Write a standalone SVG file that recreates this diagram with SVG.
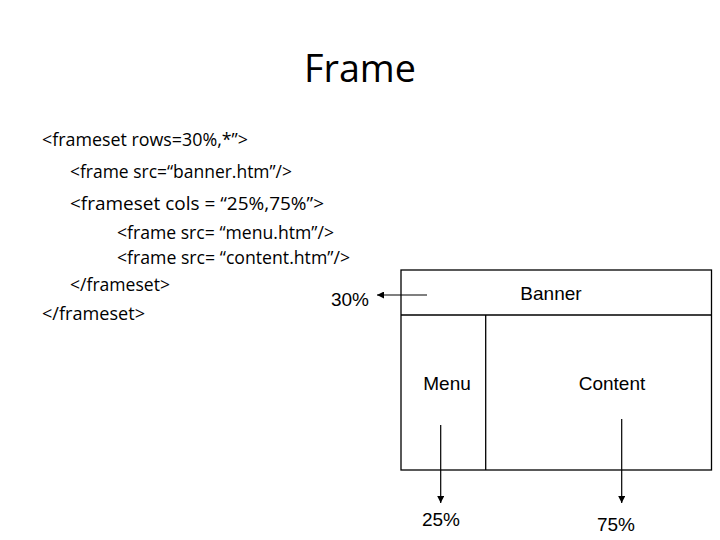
<svg xmlns="http://www.w3.org/2000/svg" width="720" height="540" viewBox="0 0 720 540">
<style>
.code{font-family:"Open Sans","Liberation Sans",sans-serif;font-size:17.5px;fill:#000}
.lbl{font-family:"Liberation Sans",Arial,sans-serif;font-size:19px;fill:#000;text-anchor:middle}
.box{fill:none;stroke:#000;stroke-width:1.3}
.conn{stroke:#000;stroke-width:1.2;fill:none;marker-end:url(#ah)}
</style>
<defs>
<marker id="ah" viewBox="0 0 10 10" refX="10" refY="5" markerWidth="7" markerHeight="7" markerUnits="userSpaceOnUse" orient="auto">
<path d="M0,0 L10,5 L0,10 z" fill="#000"/>
</marker>
</defs>
<rect width="720" height="540" fill="#fff"/>
<text x="360" y="82" text-anchor="middle" font-family="Open Sans,Liberation Sans,sans-serif" font-size="39" textLength="112" lengthAdjust="spacingAndGlyphs">Frame</text>
<g id="code">
<text class="code" x="42" y="146" textLength="206" lengthAdjust="spacingAndGlyphs">&lt;frameset rows=30%,*”&gt;</text>
<text class="code" x="70" y="178" textLength="222" lengthAdjust="spacingAndGlyphs">&lt;frame src=“banner.htm”/&gt;</text>
<text class="code" x="70" y="210" textLength="254" lengthAdjust="spacingAndGlyphs">&lt;frameset cols = “25%,75%”&gt;</text>
<text class="code" x="117" y="239" textLength="217" lengthAdjust="spacingAndGlyphs">&lt;frame src= “menu.htm”/&gt;</text>
<text class="code" x="117" y="264" textLength="233" lengthAdjust="spacingAndGlyphs">&lt;frame src= “content.htm”/&gt;</text>
<text class="code" x="70" y="291" textLength="100" lengthAdjust="spacingAndGlyphs">&lt;/frameset&gt;</text>
<text class="code" x="42" y="320" textLength="103" lengthAdjust="spacingAndGlyphs">&lt;/frameset&gt;</text>
</g>
<g id="layout">
<rect class="box" x="401" y="270" width="310.5" height="200"/>
<line class="box" x1="401" y1="315" x2="711.5" y2="315"/>
<line class="box" x1="485.7" y1="315" x2="485.7" y2="470"/>
</g>
<g id="banner"><text class="lbl" x="551" y="300">Banner</text></g>
<g id="menu"><text class="lbl" x="447" y="390">Menu</text></g>
<g id="content"><text class="lbl" x="612" y="390">Content</text></g>
<g id="p30"><text class="lbl" x="350" y="306">30%</text></g>
<g id="p25"><text class="lbl" x="441" y="526">25%</text></g>
<g id="p75"><text class="lbl" x="616" y="531">75%</text></g>
<g id="connectors">
<line class="conn" x1="427" y1="295" x2="377" y2="295"/>
<line class="conn" x1="440.7" y1="425" x2="440.7" y2="503"/>
<line class="conn" x1="621.7" y1="419" x2="621.7" y2="503"/>
</g>
</svg>
